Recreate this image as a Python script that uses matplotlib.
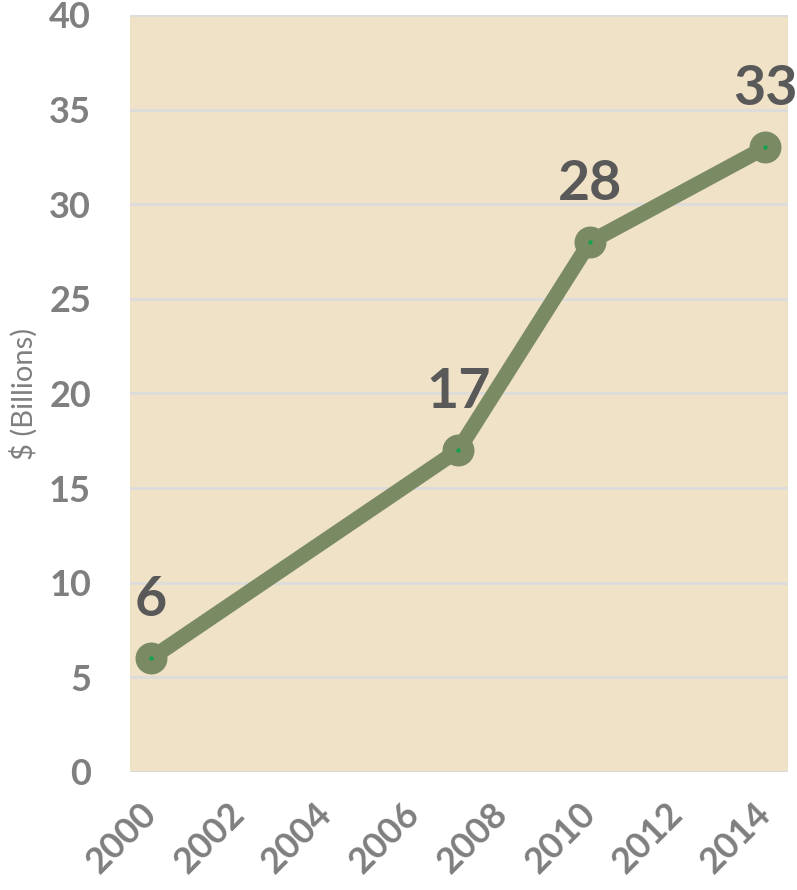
import matplotlib
matplotlib.use("Agg")
import matplotlib.pyplot as plt

years = [2000, 2007, 2010, 2014]
values = [6, 17, 28, 33]
labels = ["6", "17", "28", "33"]
xticks = [2000, 2002, 2004, 2006, 2008, 2010, 2012, 2014]
yticks = [0, 5, 10, 15, 20, 25, 30, 35, 40]

plt.rcParams['font.family'] = ['Lato', 'DejaVu Sans']

fig = plt.figure(figsize=(7.97, 8.90), dpi=100)
ax = fig.add_axes([0.163, 0.1326, 0.826, 0.8506])
ax.set_facecolor('#f0e2c7')

ax.plot(years, values, color='#7a8b63', linewidth=11, solid_capstyle='round',
        marker='o', markersize=22, markerfacecolor='#7a8b63', markeredgecolor='#7a8b63', zorder=3)
ax.plot(years, values, linestyle='none', marker='o', markersize=2.2, color='#16a34a', zorder=4)

for x, y, t in zip(years, values, labels):
    ax.annotate(t, (x, y), xytext=(0, 33), textcoords='offset pixels', ha='center', va='bottom',
                fontsize=40, fontweight='bold', color='#595959', zorder=5)

ax.set_xlim(1999.52, 2014.52)
ax.set_ylim(0, 40)
ax.set_yticks(yticks)
ax.set_xticks(xticks)
ax.set_xticklabels([str(v) for v in xticks], rotation=45, ha='right', va='center', rotation_mode='anchor')
ax.tick_params(axis='both', length=0, labelsize=26, labelcolor='#7f7f7f')
ax.tick_params(axis='y', pad=28)
ax.tick_params(axis='x', pad=26)
for lab in ax.get_xticklabels() + ax.get_yticklabels():
    lab.set_fontweight('bold')

ax.grid(axis='y', color='#dcdcdc', linewidth=2)
ax.set_axisbelow(True)
for s in ax.spines.values():
    s.set_visible(False)
ax.axhline(0, color='#d9d9d9', linewidth=2, zorder=1)

ax.set_ylabel('$ (Billions)', fontsize=21, color='#7f7f7f', labelpad=8)

fig.savefig('out.png', dpi=100)
